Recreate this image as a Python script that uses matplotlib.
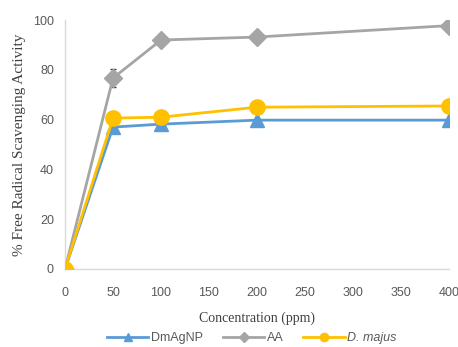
import matplotlib
matplotlib.use("Agg")
import matplotlib.pyplot as plt
from matplotlib.lines import Line2D

# ── Data ──────────────────────────────────────────────────────────────────────
conc = [0, 50, 100, 200, 400]
dmagnp = [0, 57, 58.2, 59.8, 59.8]
aa = [0, 76.7, 92, 93.2, 97.8]
aa_err = [0, 3.5, 1.5, 1.0, 1.0]
d_majus = [0, 60.6, 61, 65, 65.5]

x_ticks = [0, 50, 100, 150, 200, 250, 300, 350, 400]
y_ticks = [0, 20, 40, 60, 80, 100]

BLUE = "#5B9BD5"
GRAY = "#A5A5A5"
GOLD = "#FFC000"
TICK = "#595959"

fig = plt.figure(figsize=(4.58, 3.47), dpi=100)
ax = fig.add_axes([0.142, 0.225, 0.838, 0.717])

ax.plot(conc, dmagnp, color=BLUE, lw=2.0, marker="^", ms=10, zorder=3)
ax.errorbar(conc, aa, yerr=aa_err, color=GRAY, lw=2.0, marker="D", ms=9,
            ecolor="#404040", elinewidth=0.8, capsize=2.5, zorder=2)
ax.plot(conc, d_majus, color=GOLD, lw=2.0, marker="o", ms=11, zorder=4)

ax.set_xlim(0, 400)
ax.set_ylim(0, 100)
ax.set_xticks(x_ticks)
ax.set_yticks(y_ticks)
ax.tick_params(length=0, labelsize=9, colors=TICK)
ax.tick_params(axis="x", pad=13)
ax.tick_params(axis="y", pad=8)
for lab in ax.get_xticklabels() + ax.get_yticklabels():
    lab.set_family("Liberation Sans")

for s in ["top", "right"]:
    ax.spines[s].set_visible(False)
for s in ["left", "bottom"]:
    ax.spines[s].set_color("#D9D9D9")
    ax.spines[s].set_linewidth(1.0)

ax.set_xlabel("Concentration (ppm)", family="Liberation Serif", fontsize=10,
              color="#404040", labelpad=9)
ax.set_ylabel("% Free Radical Scavenging Activity", family="Liberation Serif",
              fontsize=11, color="#404040", labelpad=5)

handles = [
    Line2D([], [], color=BLUE, lw=2.0, marker="^", ms=6),
    Line2D([], [], color=GRAY, lw=2.0, marker="D", ms=5),
    Line2D([], [], color=GOLD, lw=2.0, marker="o", ms=6),
]
leg = fig.legend(handles, ["DmAgNP", "AA", "D. majus"], loc="center",
                 bbox_to_anchor=(0.55, 0.025), ncol=3, frameon=False,
                 fontsize=9, handlelength=3.3, columnspacing=1.6,
                 handletextpad=0.2, borderaxespad=0)
for t in leg.get_texts():
    t.set_family("Liberation Sans")
    t.set_color(TICK)
leg.get_texts()[2].set_style("italic")

fig.savefig("out.png", dpi=100)
